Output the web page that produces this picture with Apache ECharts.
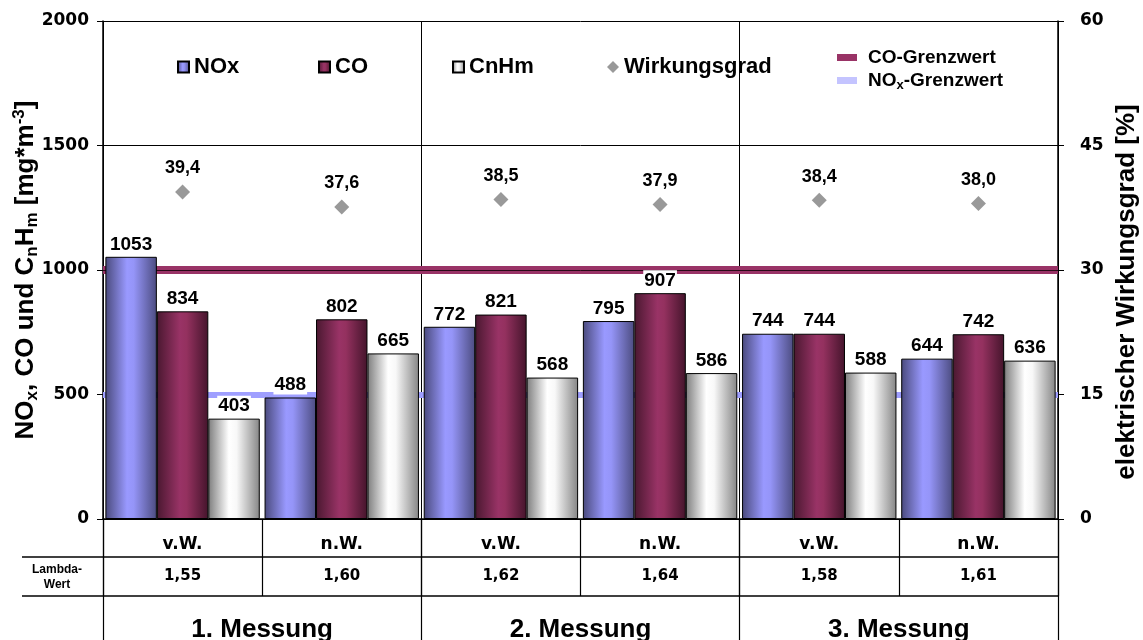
<!DOCTYPE html>
<html>
<head>
<meta charset="utf-8">
<script src="https://cdn.jsdelivr.net/npm/echarts@6/dist/echarts.min.js"></script>
<style>
html,body{margin:0;padding:0;background:#fff;}
#chart{width:1143px;height:640px;}
</style>
</head>
<body>
<div id="chart"></div>
<script>
// ---- data ----
const categories = ['v.W.', 'n.W.', 'v.W.', 'n.W.', 'v.W.', 'n.W.'];
const lambdaValues = ['1,55', '1,60', '1,62', '1,64', '1,58', '1,61'];
const measurements = ['1. Messung', '2. Messung', '3. Messung'];
const noxValues = [1053, 488, 772, 795, 744, 644];
const coValues = [834, 802, 821, 907, 744, 742];
const cnhmValues = [403, 665, 568, 586, 588, 636];
const efficiencyValues = [39.4, 37.6, 38.5, 37.9, 38.4, 38.0];
const coLimit = 1000;
const noxLimit = 500;
const leftAxis = { min: 0, max: 2000, interval: 500 };
const rightAxis = { min: 0, max: 60, interval: 15 };

// ---- styling ----
const SANS = 'Liberation Sans, Arial, sans-serif';
const WIDE = 'DejaVu Sans, sans-serif';
function hGrad(stops) {
  return new echarts.graphic.LinearGradient(0, 0, 1, 0, stops.map(c => ({ offset: c[0], color: c[1] })));
}
const noxGrad = hGrad([[0, '#4a4a7c'], [0.42, '#9999ff'], [0.55, '#9595f8'], [1, '#4c4c80']]);
const coGrad = hGrad([[0, '#4a1830'], [0.45, '#993366'], [0.58, '#94315f'], [1, '#44142b']]);
const cnGrad = hGrad([[0, '#7d7d7d'], [0.4, '#ffffff'], [0.55, '#f8f8f8'], [1, '#858585']]);

const barLabel = {
  show: true, position: 'top', distance: 3, color: '#000',
  fontFamily: SANS, fontWeight: 'bold', fontSize: 19,
  backgroundColor: '#fff', padding: [1, 1, 0, 1]
};

const chart = echarts.init(document.getElementById('chart'), null, { renderer: 'canvas' });

const legendText = { fontFamily: SANS, fontWeight: 'bold', fontSize: 22, color: '#000' };
const limitText = {
  fontFamily: SANS, fontWeight: 'bold', fontSize: 19, color: '#000', padding: [0, 0, 0, 6],
  rich: {
    a: { fontFamily: SANS, fontWeight: 'bold', fontSize: 19, color: '#000', lineHeight: 22 },
    s: { fontFamily: SANS, fontWeight: 'bold', fontSize: 13, color: '#000', verticalAlign: 'bottom', lineHeight: 22, padding: [7, 0, 0, 0] }
  }
};

function singleLegend(name, left, top, icon, w, h, textStyle, extra) {
  return Object.assign({
    data: [{ name: name, icon: icon }],
    left: left, top: top, itemWidth: w, itemHeight: h, itemGap: 5,
    textStyle: textStyle, selectedMode: false, padding: 0
  }, extra || {});
}

const option = {
  backgroundColor: '#fff',
  animation: false,
  grid: { left: 103, right: 85, top: 21, bottom: 121, containLabel: false, outerBoundsMode: 'none' },
  legend: [
    singleLegend('NOx', 177, 56, 'rect', 11, 11, legendText),
    singleLegend('CO', 318, 56, 'rect', 11, 11, legendText),
    singleLegend('CnHm', 452, 56, 'rect', 11, 11, legendText),
    singleLegend('Wirkungsgrad', 607, 56, 'diamond', 12, 12, legendText),
    singleLegend('CO-Grenzwert', 837, 48, 'rect', 20, 7, limitText),
    singleLegend('NOx-Grenzwert', 837, 71, 'rect', 20, 7, limitText, {
      formatter: function () { return '{a|NO}{s|x}{a|-Grenzwert}'; }
    })
  ],
  xAxis: [
    {
      type: 'category', data: categories, position: 'bottom',
      axisLine: { show: true, lineStyle: { color: '#000', width: 1.5 } },
      axisTick: { show: true, interval: 0, length: 77, lineStyle: { color: '#000', width: 1.2 } },
      axisLabel: { interval: 0, margin: 17, color: '#000', fontFamily: WIDE, fontWeight: 'bold', fontSize: 17 },
      splitLine: { show: false }
    },
    {
      type: 'category', data: lambdaValues, position: 'bottom',
      axisLine: { show: false }, axisTick: { show: false },
      axisLabel: { interval: 0, margin: 50, color: '#000', fontFamily: WIDE, fontWeight: 'bold', fontSize: 15 },
      splitLine: { show: false }
    },
    {
      type: 'category', data: measurements, position: 'bottom',
      axisLine: { show: false },
      axisTick: { show: true, interval: 0, length: 121, lineStyle: { color: '#000', width: 1.2 } },
      axisLabel: { interval: 0, margin: 98, color: '#000', fontFamily: SANS, fontWeight: 'bold', fontSize: 26 },
      splitLine: { show: true, interval: 0, lineStyle: { color: '#000', width: 1 } }
    }
  ],
  yAxis: [
    {
      type: 'value', min: leftAxis.min, max: leftAxis.max, interval: leftAxis.interval,
      position: 'left',
      axisLine: { show: true, lineStyle: { color: '#000', width: 1.5 } },
      axisTick: { show: true, length: 6, lineStyle: { color: '#000' } },
      axisLabel: { margin: 14, color: '#000', fontFamily: WIDE, fontWeight: 'bold', fontSize: 17,
        formatter: function (v) { return String(v); } },
      splitLine: { show: true, lineStyle: { color: '#000', width: 1 } },
      name: '{a|NO}{s|x}{a|, CO und C}{s|n}{a|H}{s|m}{a| [mg*m}{p|-3}{a|]}',
      nameLocation: 'middle', nameRotate: 90, nameGap: 62, nameMoveOverlap: false,
      nameTextStyle: {
        fontFamily: SANS, fontWeight: 'bold', fontSize: 26, color: '#000',
        rich: {
          a: { fontFamily: SANS, fontWeight: 'bold', fontSize: 26, color: '#000', lineHeight: 30 },
          s: { fontFamily: SANS, fontWeight: 'bold', fontSize: 17, color: '#000', lineHeight: 30, verticalAlign: 'bottom', padding: [9, 0, 0, 0] },
          p: { fontFamily: SANS, fontWeight: 'bold', fontSize: 17, color: '#000', lineHeight: 30, verticalAlign: 'top', padding: [0, 0, 9, 0] }
        }
      }
    },
    {
      type: 'value', min: rightAxis.min, max: rightAxis.max, interval: rightAxis.interval,
      position: 'right',
      axisLine: { show: true, lineStyle: { color: '#000', width: 1.5 } },
      axisTick: { show: true, length: 6, lineStyle: { color: '#000' } },
      axisLabel: { margin: 22, color: '#000', fontFamily: WIDE, fontWeight: 'bold', fontSize: 17,
        formatter: function (v) { return String(v); } },
      splitLine: { show: false },
      name: 'elektrischer Wirkungsgrad [%]',
      nameLocation: 'middle', nameRotate: 90, nameGap: 56, nameMoveOverlap: false,
      nameTextStyle: { fontFamily: SANS, fontWeight: 'bold', fontSize: 26, color: '#000', padding: [0, 44, 0, 0] }
    }
  ],
  graphic: [
    { type: 'line', shape: { x1: 22, y1: 557, x2: 1058, y2: 557 }, style: { stroke: '#000', lineWidth: 1.5 }, silent: true },
    { type: 'line', shape: { x1: 22, y1: 596, x2: 1058, y2: 596 }, style: { stroke: '#000', lineWidth: 1.5 }, silent: true },
    {
      type: 'text', x: 57, y: 562, silent: true,
      style: { text: 'Lambda-\nWert', fill: '#000', font: 'bold 12px ' + SANS, align: 'center', verticalAlign: 'top', lineHeight: 15 }
    }
  ],
  series: [
    {
      name: 'NOx', type: 'bar', xAxisIndex: 0, yAxisIndex: 0, data: noxValues,
      barGap: '0%', barCategoryGap: '3%', z: 3,
      itemStyle: { color: noxGrad, borderColor: '#000', borderWidth: 1 },
      label: barLabel
    },
    {
      name: 'CO', type: 'bar', xAxisIndex: 0, yAxisIndex: 0, data: coValues,
      barGap: '0%', barCategoryGap: '3%', z: 3,
      itemStyle: { color: coGrad, borderColor: '#000', borderWidth: 1 },
      label: barLabel
    },
    {
      name: 'CnHm', type: 'bar', xAxisIndex: 0, yAxisIndex: 0, data: cnhmValues,
      barGap: '0%', barCategoryGap: '3%', z: 3,
      itemStyle: { color: cnGrad, borderColor: '#000', borderWidth: 1 },
      label: barLabel
    },
    {
      name: 'Wirkungsgrad', type: 'scatter', xAxisIndex: 0, yAxisIndex: 1, data: efficiencyValues,
      symbol: 'diamond', symbolSize: 15, z: 4,
      itemStyle: { color: '#999999', opacity: 1 },
      label: {
        show: true, position: 'top', distance: 7, color: '#000', opacity: 1,
        fontFamily: SANS, fontWeight: 'bold', fontSize: 18,
        formatter: function (p) { return p.value.toFixed(1).replace('.', ','); }
      }
    },
    {
      name: 'CO-Grenzwert', type: 'line', xAxisIndex: 0, yAxisIndex: 0, data: [], z: 2,
      itemStyle: { color: '#993366' }, lineStyle: { color: '#993366' },
      markLine: {
        z: 1, silent: true, symbol: ['none', 'none'], label: { show: false },
        data: [
          { yAxis: coLimit, lineStyle: { color: '#993366', width: 8, type: 'solid' } },
          { yAxis: coLimit, lineStyle: { color: '#2a0a18', width: 1, type: 'solid' } }
        ]
      }
    },
    {
      name: 'NOx-Grenzwert', type: 'line', xAxisIndex: 0, yAxisIndex: 0, data: [], z: 2,
      itemStyle: { color: '#c4c4ff' }, lineStyle: { color: '#c4c4ff' },
      markLine: {
        z: 1, silent: true, symbol: ['none', 'none'], label: { show: false },
        data: [
          { yAxis: noxLimit, lineStyle: { color: '#9f9fff', width: 6, type: 'solid' } }
        ]
      }
    }
  ]
};
chart.setOption(option);
</script>
</body>
</html>
